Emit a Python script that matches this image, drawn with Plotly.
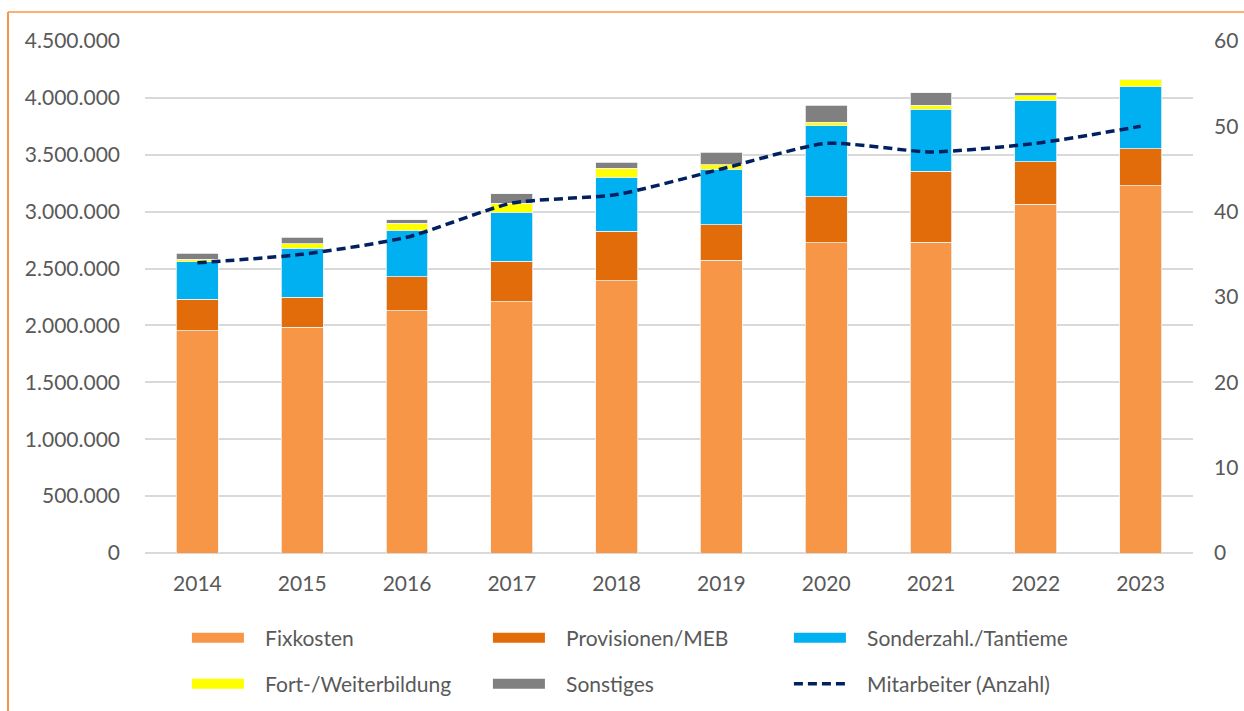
import plotly.graph_objects as go

years = ["2014", "2015", "2016", "2017", "2018", "2019", "2020", "2021", "2022", "2023"]
fixkosten = [1954000, 1984000, 2130000, 2209000, 2391000, 2575000, 2727000, 2733000, 3064000, 3226000]
provisionen = [278000, 266000, 299000, 357000, 439000, 311000, 402000, 622000, 375000, 327000]
sonderzahl = [328000, 428000, 404000, 425000, 472000, 486000, 624000, 545000, 536000, 543000]
fortbildung = [24000, 41000, 64000, 82000, 79000, 41000, 35000, 35000, 44000, 67000]
sonstiges = [50000, 58000, 30000, 85000, 53000, 108000, 147000, 111000, 27000, 0]
mitarbeiter = [34, 35, 37, 41, 42, 45, 48, 47, 48, 50]

bar_series = [
    ("Fixkosten", fixkosten, "#F79646", "legend"),
    ("Provisionen/MEB", provisionen, "#E36C0A", "legend"),
    ("Sonderzahl./Tantieme", sonderzahl, "#00B0F0", "legend"),
    ("Fort-/Weiterbildung", fortbildung, "#FFFF00", "legend2"),
    ("Sonstiges", sonstiges, "#808080", "legend2"),
]

FONT = "Lato"
TXT = "#595959"
PAD = "\u00a0\u00a0\u00a0"

fig = go.Figure()
for name, vals, color, lg in bar_series:
    fig.add_trace(go.Bar(
        x=years, y=vals, name=name, marker=dict(color=color, line=dict(color="#F2F2F2", width=0.8)),
        showlegend=False, yaxis="y",
    ))
    # legend swatch
    fig.add_trace(go.Scatter(
        x=[None], y=[None], mode="lines", name=PAD + name,
        line=dict(color=color, width=14), legend=lg, showlegend=True,
    ))

fig.add_trace(go.Scatter(
    x=years, y=mitarbeiter, name=PAD + "Mitarbeiter (Anzahl)", yaxis="y2", mode="lines",
    line=dict(color="#002060", width=3.5, dash="9px,5px", shape="spline", smoothing=0.6),
    legend="legend2",
))

legend_common = dict(
    orientation="h", font=dict(family=FONT, size=21, color=TXT),
    itemwidth=52, entrywidth=234, xanchor="left", yanchor="middle",
    bgcolor="rgba(0,0,0,0)", itemclick=False, itemdoubleclick=False,
    traceorder="normal",
)

fig.update_layout(
    width=1244, height=711,
    margin=dict(l=145, r=51, t=41, b=158, autoexpand=False),
    paper_bgcolor="white", plot_bgcolor="white",
    barmode="stack", bargap=0.6,
    separators=",.",
    font=dict(family=FONT, size=21, color=TXT),
    xaxis=dict(
        type="category", showgrid=False, showline=False, ticks="",
        tickfont=dict(family=FONT, size=21, color=TXT), ticklabelstandoff=16,
    ),
    yaxis=dict(
        range=[0, 4500000], dtick=500000, tickformat=",d",
        showgrid=True, gridcolor="#D9D9D9", gridwidth=1.5,
        zeroline=True, zerolinecolor="#D9D9D9", zerolinewidth=1.5,
        showline=False, ticks="", ticklabelstandoff=24,
        tickfont=dict(family=FONT, size=21, color=TXT),
    ),
    yaxis2=dict(
        range=[0, 60], dtick=10, overlaying="y", side="right",
        showgrid=False, zeroline=False, showline=False, ticks="", ticklabelstandoff=20,
        tickfont=dict(family=FONT, size=21, color=TXT),
    ),
    legend=dict(x=0.04, y=-0.166, **legend_common),
    legend2=dict(x=0.04, y=-0.256, **legend_common),
    shapes=[
        dict(type="line", xref="paper", yref="paper", x0=(8 - 145) / 1048, x1=(1244 - 145) / 1048,
             y0=(553 - 12) / 512, y1=(553 - 12) / 512, line=dict(color="#F79646", width=1.5)),
        dict(type="line", xref="paper", yref="paper", x0=(8 - 145) / 1048, x1=(8 - 145) / 1048,
             y0=(553 - 12) / 512, y1=(553 - 720) / 512, line=dict(color="#F79646", width=2)),
    ],
)

fig.write_html(
    "out.html",
    config={"displayModeBar": False},
    post_script="document.body.style.margin='0';document.body.style.overflow='hidden';",
)
